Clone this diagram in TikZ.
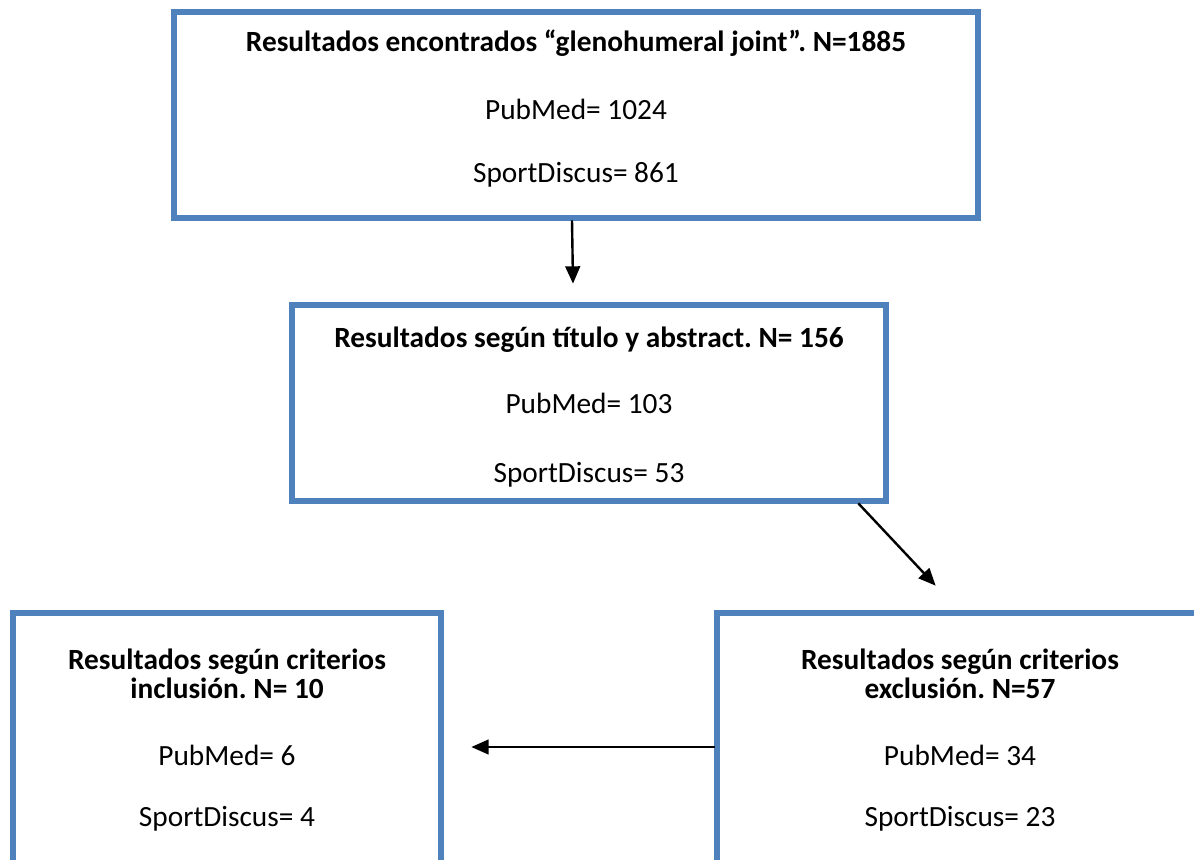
\documentclass[tikz,border=0pt]{standalone}
\usepackage{fontspec}
\setmainfont{Carlito}
\usetikzlibrary{arrows.meta,calc}
\definecolor{azulcaixa}{HTML}{4F81BD}
\frenchspacing

\begin{document}
\begin{tikzpicture}[x=0.75pt,y=-0.75pt,
    caixa/.style={draw=azulcaixa,line width=5pt,inner sep=0pt},
    texto/.style={anchor=base,font=\fontsize{22pt}{22pt}\selectfont},
    titulo/.style={anchor=base,font=\bfseries\fontsize{22pt}{22pt}\selectfont},
    seta/.style={line width=1.8pt,-{Triangle[length=13pt,width=11pt]}}]
  \useasboundingbox (0,0) rectangle (1194,859);
  \clip (0,0) rectangle (1194,859);

  %caixa de cima
  \node[caixa,minimum width=603pt,minimum height=154.5pt] (busca) at (576,115) {};
  \node[titulo] (buscaT) at (576,52) {Resultados encontrados “glenohumeral joint”. N=1885};
  \node[texto] (buscaP) at (576,120) {PubMed= 1024};
  \node[texto] (buscaS) at (576,183) {SportDiscus= 861};

  %caixa do meio
  \node[caixa,minimum width=445.5pt,minimum height=147pt] (titulo) at (589,403) {};
  \node[titulo] (tituloT) at (589,347) {Resultados según título y abstract. N= 156};
  \node[texto] (tituloP) at (589,413) {PubMed= 103};
  \node[texto] (tituloS) at (589,482) {SportDiscus= 53};

  %caixas de baixo
  \node[caixa,minimum width=321pt,minimum height=215.25pt] (inclu) at (227,756.5) {};
  \node[titulo] (incluT1) at (227,669) {Resultados según criterios};
  \node[titulo] (incluT2) at (227,698) {inclusión. N= 10};
  \node[texto] (incluP) at (227,765) {PubMed= 6};
  \node[texto] (incluS) at (227,826) {SportDiscus= 4};

  \node[caixa,minimum width=364.5pt,minimum height=215.25pt] (exclu) at (960,756.5) {};
  \node[titulo] (excluT1) at (960,669) {Resultados según criterios};
  \node[titulo] (excluT2) at (960,698) {exclusión. N=57};
  \node[texto] (excluP) at (960,765) {PubMed= 34};
  \node[texto] (excluS) at (960,826) {SportDiscus= 23};

  %setas
  \coordinate (s1a) at ($(busca.south)+(-4,-1)$);
  \coordinate (s1b) at ($(titulo.north)+(-16,-18)$);
  \draw[seta] (s1a) -- (s1b);
  \coordinate (s2a) at ($(titulo.south east)+(-31,-1)$);
  \coordinate (s2b) at ($(exclu.north west)+(222,-24)$);
  \draw[seta] (s2a) -- (s2b);
  \coordinate (s3a) at ($(exclu.west)+(1,-9.5)$);
  \coordinate (s3b) at ($(inclu.east)+(27,-9.5)$);
  \draw[seta] (s3a) -- (s3b);
\end{tikzpicture}
\end{document}
